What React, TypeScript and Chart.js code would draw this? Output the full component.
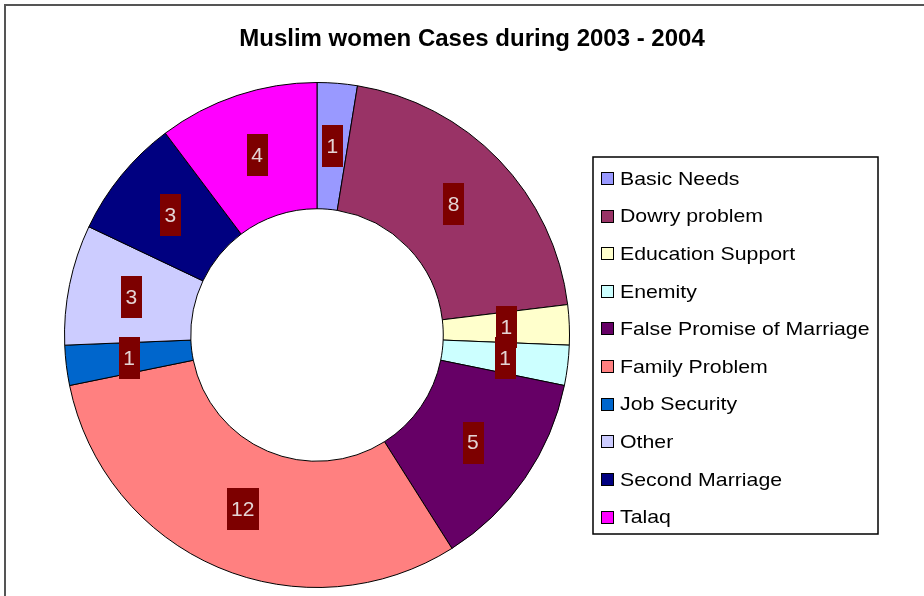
import { useEffect, useRef } from 'react';
import { Chart, registerables } from 'chart.js';

Chart.register(...registerables);

const chartTitle = 'Muslim women Cases during 2003 - 2004';
const categories = [
  'Basic Needs',
  'Dowry problem',
  'Education Support',
  'Enemity',
  'False Promise of Marriage',
  'Family Problem',
  'Job Security',
  'Other',
  'Second Marriage',
  'Talaq',
];
const cases = [1, 8, 1, 1, 5, 12, 1, 3, 3, 4];
const sliceColors = [
  '#9999FF',
  '#993366',
  '#FFFFCC',
  '#CCFFFF',
  '#660066',
  '#FF8080',
  '#0066CC',
  '#CCCCFF',
  '#000080',
  '#FF00FF',
];

function stretchText(ctx: CanvasRenderingContext2D, text: string, x: number, y: number, sx: number) {
  ctx.save();
  ctx.translate(x, y);
  ctx.scale(sx, 1);
  ctx.fillText(text, 0, 0);
  ctx.restore();
}

const decorPlugin = {
  id: 'decor',
  beforeDraw(chart: any) {
    const ctx = chart.ctx as CanvasRenderingContext2D;
    ctx.save();
    ctx.fillStyle = '#ffffff';
    ctx.fillRect(0, 0, chart.width, chart.height);
    // outer frame (left/top visible)
    ctx.fillStyle = '#555555';
    ctx.fillRect(4, 4, chart.width - 4, 2);
    ctx.fillRect(4, 4, 2, chart.height - 4);
    ctx.restore();
  },
  afterDatasetsDraw(chart: any) {
    const ctx = chart.ctx as CanvasRenderingContext2D;
    const meta = chart.getDatasetMeta(0);
    const values = chart.data.datasets[0].data as number[];
    ctx.save();
    // data labels
    ctx.font = '21px "Liberation Sans", Arial, sans-serif';
    ctx.textBaseline = 'middle';
    ctx.textAlign = 'center';
    meta.data.forEach((arc: any, i: number) => {
      const p = arc.getProps(['x', 'y', 'startAngle', 'endAngle', 'innerRadius', 'outerRadius'], true);
      const mid = (p.startAngle + p.endAngle) / 2;
      const r = (p.innerRadius + p.outerRadius) / 2;
      const cx = p.x + Math.cos(mid) * r;
      const cy = p.y + Math.sin(mid) * r;
      const txt = String(values[i]);
      const w = ctx.measureText(txt).width + 9;
      const h = 42;
      ctx.fillStyle = '#7d0000';
      ctx.fillRect(Math.round(cx - w / 2), Math.round(cy - h / 2), Math.round(w), h);
      ctx.fillStyle = '#e4d4d4';
      ctx.fillText(txt, cx, cy + 1);
    });

    // title
    ctx.fillStyle = '#000000';
    ctx.font = 'bold 24px "Liberation Sans", Arial, sans-serif';
    ctx.textAlign = 'center';
    ctx.textBaseline = 'alphabetic';
    stretchText(ctx, chartTitle, 472, 46, 1.0);

    // legend
    const lx = 593, ly = 157, lw = 285, lh = 377;
    ctx.strokeStyle = '#000000';
    ctx.lineWidth = 1.5;
    ctx.strokeRect(lx, ly, lw, lh);
    ctx.lineWidth = 1;
    ctx.font = '19px "Liberation Sans", Arial, sans-serif';
    ctx.textAlign = 'left';
    ctx.textBaseline = 'middle';
    const labels = chart.data.labels as string[];
    const colors = chart.data.datasets[0].backgroundColor as string[];
    const step = (517 - 178.5) / 9;
    labels.forEach((lab, i) => {
      const y = 178.5 + i * step;
      const top = Math.round(y - 6.5);
      ctx.fillStyle = colors[i];
      ctx.fillRect(601, top, 13, 13);
      ctx.strokeStyle = '#000000';
      ctx.strokeRect(601.5, top + 0.5, 12, 12);
      ctx.fillStyle = '#000000';
      stretchText(ctx, lab, 620, y + 1, 1.12);
    });
    ctx.restore();
  },
};

export default function App() {
  const canvasRef = useRef<HTMLCanvasElement | null>(null);

  useEffect(() => {
    document.body.style.margin = '0';
    const canvas = canvasRef.current;
    if (!canvas) return;
    const chart = new Chart(canvas, {
      type: 'doughnut',
      data: {
        labels: categories,
        datasets: [
          {
            data: cases,
            backgroundColor: sliceColors,
            borderColor: '#000000',
            borderWidth: 1,
          },
        ],
      },
      options: {
        responsive: false,
        animation: false,
        cutout: '50%',
        layout: { padding: { left: 64, top: 82, right: 354, bottom: 8 } },
        plugins: {
          legend: { display: false },
          title: { display: false },
          tooltip: { enabled: false },
        },
      },
      plugins: [decorPlugin],
    });
    return () => chart.destroy();
  }, []);

  return (
    <div style={{ width: 924, height: 596, position: 'relative' }}>
      <canvas ref={canvasRef} width={924} height={596} style={{ display: 'block' }} />
    </div>
  );
}
